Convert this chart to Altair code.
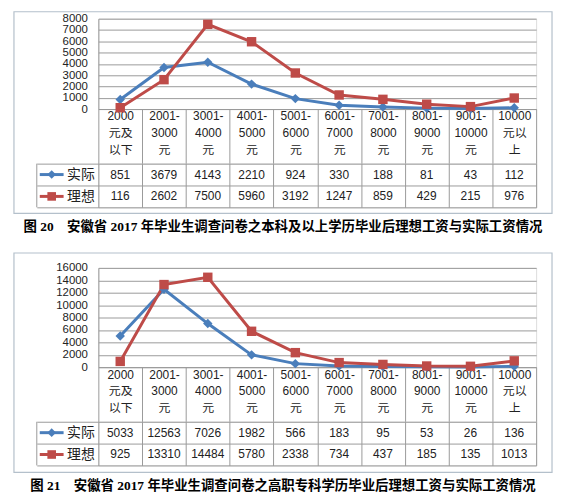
import altair as alt
import pandas as pd

# ---- data ----
cats = ["2000|元及|以下", "2001-|3000|元", "3001-|4000|元", "4001-|5000|元",
        "5001-|6000|元", "6001-|7000|元", "7001-|8000|元", "8001-|9000|元",
        "9001-|10000|元", "10000|元以|上"]
series = ["实际", "理想"]

p1_actual = [851, 3679, 4143, 2210, 924, 330, 188, 81, 43, 112]
p1_ideal = [116, 2602, 7500, 5960, 3192, 1247, 859, 429, 215, 976]
p2_actual = [5033, 12563, 7026, 1982, 566, 183, 95, 53, 26, 136]
p2_ideal = [925, 13310, 14484, 5780, 2338, 734, 437, 185, 135, 1013]

SP = "\u00a0\u00a0\u00a0\u00a0"
cap1 = "图 20" + SP + "安徽省 2017 年毕业生调查问卷之本科及以上学历毕业后理想工资与实际工资情况"
cap2 = "图 21" + SP + "安徽省 2017 年毕业生调查问卷之高职专科学历毕业后理想工资与实际工资情况"

BLUE = "#4a7ebb"
RED = "#be4b48"
GRID = "#9a9a9a"
FRAME = "#b4c0cb"
TXT = "#222222"
FONT = "Liberation Sans, Noto Sans CJK SC"

W = 441
HEAD = 55
ROWS = 44


def panel(actual, ideal, ymax, ystep, height, caption, ftop, fbottom):
    df = pd.DataFrame({
        "cat": cats * 2,
        "series": [series[0]] * 10 + [series[1]] * 10,
        "value": actual + ideal,
    })
    color = alt.Color("series:N", scale=alt.Scale(domain=series, range=[BLUE, RED]), legend=None)
    shape = alt.Shape("series:N", scale=alt.Scale(domain=series, range=["diamond", "square"]), legend=None)

    x_line = alt.X("cat:N", scale=alt.Scale(type="band", domain=cats, paddingInner=0, paddingOuter=0),
                   axis=alt.Axis(title=None, labelAngle=0, labelExpr="split(datum.label, '|')",
                                 tickBand="extent", tickSize=HEAD, tickColor=GRID, domainColor=GRID,
                                 labelPadding=2 - HEAD, labelLineHeight=17, labelFontSize=12,
                                 labelColor=TXT, labelBaseline="top", labelFont=FONT))
    y_line = alt.Y("value:Q", scale=alt.Scale(domain=[0, ymax], nice=False),
                   axis=alt.Axis(title=None, values=list(range(0, ymax + 1, ystep)), format="d",
                                 labelOverlap=False, grid=True,
                                 gridColor=GRID, ticks=False, domainColor=GRID, labelPadding=11,
                                 labelFontSize=11.5, labelColor=TXT, labelFont=FONT))
    base = alt.Chart(df)
    lines = base.mark_line(strokeWidth=3).encode(x=x_line, y=y_line, color=color)
    pts = base.mark_point(filled=True, size=90, opacity=1).encode(x=x_line, y=y_line, color=color, shape=shape)
    frame = alt.Chart(pd.DataFrame({"f": [0]})).mark_rect(fillOpacity=0, stroke=FRAME, strokeWidth=1.2).encode(
        x=alt.value(-85), x2=alt.value(W + 16), y=alt.value(ftop), y2=alt.value(fbottom))
    top = alt.layer(frame, lines, pts).properties(width=W, height=height)

    x_tab = alt.X("cat:N", scale=alt.Scale(type="band", domain=cats, paddingInner=0, paddingOuter=0),
                  axis=alt.Axis(title=None, labels=False, ticks=False, domain=False, grid=True,
                                tickBand="extent", gridColor=GRID))
    y_tab = alt.Y("series:N", scale=alt.Scale(type="band", domain=series, paddingInner=0, paddingOuter=0),
                  axis=alt.Axis(title=None, grid=True, tickBand="extent", gridColor=GRID, ticks=True,
                                tickSize=62, tickColor=GRID, domain=False, labelPadding=4 - 62,
                                labelOverlap=False,
                                labelFontSize=14, labelColor=TXT, labelFont=FONT))
    texts = base.mark_text(fontSize=12, color=TXT, font=FONT).encode(
        x=x_tab, y=y_tab, text=alt.Text("value:Q", format="d"))
    leg = alt.Chart(pd.DataFrame({"series": series}))
    leg_line = leg.mark_rule(strokeWidth=3).encode(x=alt.value(-59), x2=alt.value(-35), y=y_tab, color=color)
    leg_pt = leg.mark_point(filled=True, size=75, opacity=1).encode(x=alt.value(-47), y=y_tab, color=color, shape=shape)
    left_border = alt.Chart(pd.DataFrame({"f": [0]})).mark_rule(color=GRID).encode(
        x=alt.value(-62), y=alt.value(0), y2=alt.value(ROWS))
    table = alt.layer(texts, leg_line, leg_pt, left_border).properties(width=W, height=ROWS)

    return alt.VConcatChart(
        vconcat=[top, table], spacing=HEAD, bounds="flush",
        title=alt.Title(caption, orient="bottom", anchor="middle", offset=6,
                        font="Liberation Serif, Noto Sans CJK SC", fontSize=13.5, fontWeight="bold",
                        color="#000000"))


p1 = panel(p1_actual, p1_ideal, 8000, 1000, 91, cap1, -7, 196)
p2 = panel(p2_actual, p2_ideal, 16000, 2000, 100, cap2, -15, 206)

chart = alt.VConcatChart(vconcat=[p1, p2], spacing=17).properties(
    padding={"left": 4, "top": 0, "right": 0, "bottom": 0}
).configure_view(strokeWidth=0).configure(background="white")

chart.save("out.html", embed_options={"renderer": "svg", "actions": False})
